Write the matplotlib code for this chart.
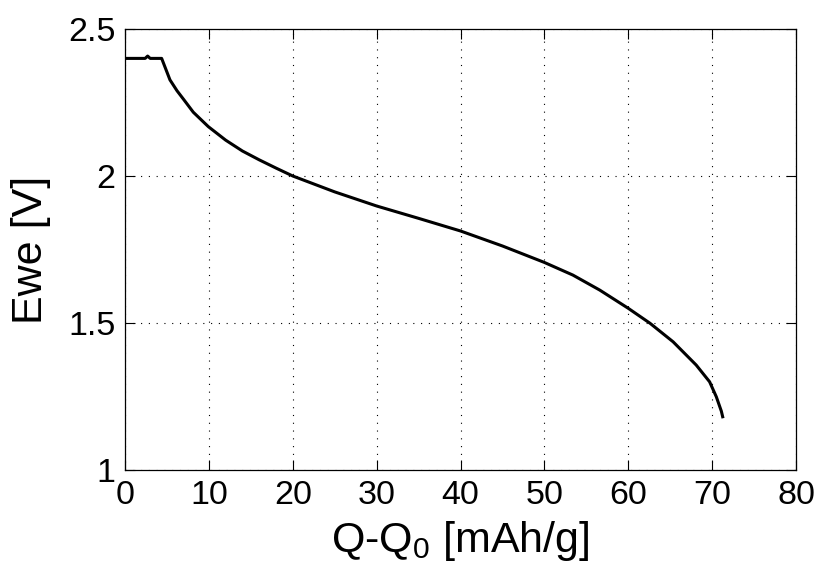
import matplotlib
matplotlib.use("Agg")
import matplotlib.pyplot as plt

q = [0.0, 1.5, 2.4, 2.7, 3.0, 4.37, 5.36, 6.2, 6.95, 8.14, 9.93, 12.0, 14.0, 16.0,
     18.0, 20.0, 25.0, 30.0, 35.0, 40.0, 45.0, 50.0, 53.4, 56.6, 60.0, 62.6,
     65.35, 68.1, 69.7, 70.5, 71.1, 71.3]
ewe = [2.40, 2.40, 2.40, 2.408, 2.40, 2.40, 2.327, 2.29, 2.262, 2.217, 2.168, 2.122,
       2.085, 2.055, 2.027, 2.0, 1.946, 1.898, 1.856, 1.813, 1.762, 1.706, 1.663,
       1.612, 1.55, 1.499, 1.436, 1.357, 1.30, 1.249, 1.20, 1.176]

xticks = [0, 10, 20, 30, 40, 50, 60, 70, 80]
yticks = [1, 1.5, 2, 2.5]
ytick_labels = ["1", "1.5", "2", "2.5"]

plt.rcParams['font.family'] = ['Liberation Sans', 'DejaVu Sans']
plt.rcParams['mathtext.fontset'] = 'custom'
plt.rcParams['mathtext.rm'] = 'Liberation Sans'
plt.rcParams['mathtext.it'] = 'Liberation Sans'
plt.rcParams['mathtext.default'] = 'regular'

fig = plt.figure(figsize=(8.19, 5.75), dpi=100)
ax = fig.add_axes([125/819, 1-470/575, (796-125)/819, (470-29)/575])

ax.plot(q, ewe, color='k', lw=2.2, solid_joinstyle='round', solid_capstyle='butt')

ax.set_xlim(0, 80)
ax.set_ylim(1, 2.5)
ax.set_xticks(xticks)
ax.set_yticks(yticks)
ax.set_yticklabels(ytick_labels)
ax.grid(True, color='k', linestyle=(0, (1, 6)), linewidth=0.8)
ax.tick_params(direction='in', length=7, width=0.8, top=True, right=True,
               labelsize=24.5, pad=7)
for s in ax.spines.values():
    s.set_linewidth(0.9)

ax.set_xlabel(r"Q-Q$_{0}$ [mAh/g]", fontsize=31, labelpad=6)
ax.set_ylabel("Ewe [V]", fontsize=31, labelpad=12)

fig.savefig("out.png", dpi=100)
